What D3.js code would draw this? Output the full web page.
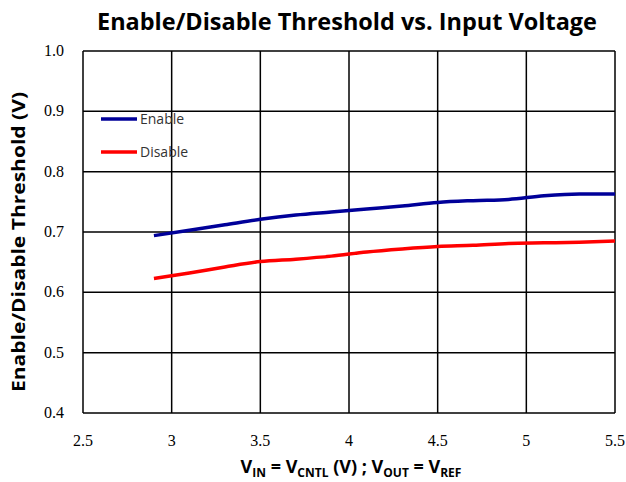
<!DOCTYPE html>
<html><head><meta charset="utf-8">
<script src="https://cdn.jsdelivr.net/npm/d3@7"></script>
<style>body{margin:0;background:#fff}svg{display:block}</style>
</head><body>
<svg id="c" width="626" height="482"></svg>
<script>
const vin = [2.9,3.1,3.3,3.5,3.7,3.9,4.1,4.3,4.5,4.7,4.9,5.1,5.3,5.5];
const enable = [0.694,0.703,0.712,0.721,0.728,0.733,0.738,0.743,0.749,0.752,0.754,0.760,0.763,0.763];
const disable = [0.623,0.632,0.642,0.651,0.655,0.660,0.667,0.672,0.676,0.678,0.681,0.682,0.683,0.685];
const xTicks = [2.5,3,3.5,4,4.5,5,5.5];
const yTicks = [0.4,0.5,0.6,0.7,0.8,0.9,1.0];
const seriesNames = ["Enable","Disable"];
const colors = ["#000099","#ff0000"];

const svg = d3.select("#c");
const x = d3.scaleLinear().domain([2.5,5.5]).range([83,615]);
const y = d3.scaleLinear().domain([0.4,1.0]).range([413,51]);

// grid
svg.append("g").selectAll("line").data(xTicks).join("line")
  .attr("x1",d=>x(d)).attr("x2",d=>x(d)).attr("y1",y(1)).attr("y2",y(0.4))
  .attr("stroke","#000").attr("stroke-width",1.5);
svg.append("g").selectAll("line").data(yTicks).join("line")
  .attr("y1",d=>y(d)).attr("y2",d=>y(d)).attr("x1",x(2.5)).attr("x2",x(5.5))
  .attr("stroke","#000").attr("stroke-width",1.5);

// tick labels
svg.append("g").selectAll("text").data(yTicks).join("text")
  .attr("x",64).attr("y",d=>y(d)+5).attr("text-anchor","end")
  .attr("font-family","Liberation Serif").attr("font-size",16)
  .text(d=>d.toFixed(1));
svg.append("g").selectAll("text").data(xTicks).join("text")
  .attr("x",d=>x(d)).attr("y",446).attr("text-anchor","middle")
  .attr("font-family","Liberation Serif").attr("font-size",16)
  .text(d=>d);

// lines
const line = d3.line().x((d,i)=>x(vin[i])).y(d=>y(d)).curve(d3.curveMonotoneX);
[enable,disable].forEach((s,k)=>{
  svg.append("path").attr("d",line(s)).attr("fill","none")
    .attr("stroke",colors[k]).attr("stroke-width",3.5);
});

// legend
seriesNames.forEach((n,k)=>{
  const ly = 119 + k*33;
  svg.append("line").attr("x1",101).attr("x2",137).attr("y1",ly).attr("y2",ly)
    .attr("stroke",colors[k]).attr("stroke-width",3.5);
  svg.append("text").attr("x",140).attr("y",ly+5)
    .attr("font-family","Open Sans, sans-serif").attr("font-size",14).attr("fill","#333")
    .text(n);
});

// title
svg.append("text").attr("x",347).attr("y",30).attr("text-anchor","middle")
  .attr("font-family","Open Sans, sans-serif").attr("font-weight","bold").attr("font-size",23)
  .attr("textLength",500).attr("lengthAdjust","spacingAndGlyphs")
  .text("Enable/Disable Threshold vs. Input Voltage");

// y title
svg.append("text").attr("transform","translate(25,242) rotate(-90)").attr("text-anchor","middle")
  .attr("font-family","Open Sans, sans-serif").attr("font-weight","bold").attr("font-size",17)
  .attr("textLength",300).attr("lengthAdjust","spacingAndGlyphs")
  .text("Enable/Disable Threshold (V)");

// x title with subscripts
const xt = svg.append("text").attr("x",351).attr("y",473).attr("text-anchor","middle")
  .attr("font-family","Open Sans, sans-serif").attr("font-weight","bold").attr("font-size",18);
const parts = [["V",0],["IN",1],[" = V",0],["CNTL",1],[" (V) ; V",0],["OUT",1],[" = V",0],["REF",1]];
parts.forEach(([t,sub],i)=>{
  const ts = xt.append("tspan").text(t);
  if(sub){ ts.attr("font-size",12).attr("dy",4); }
  else if(i>0){ ts.attr("dy",-4); }
});
</script>
</body></html>
